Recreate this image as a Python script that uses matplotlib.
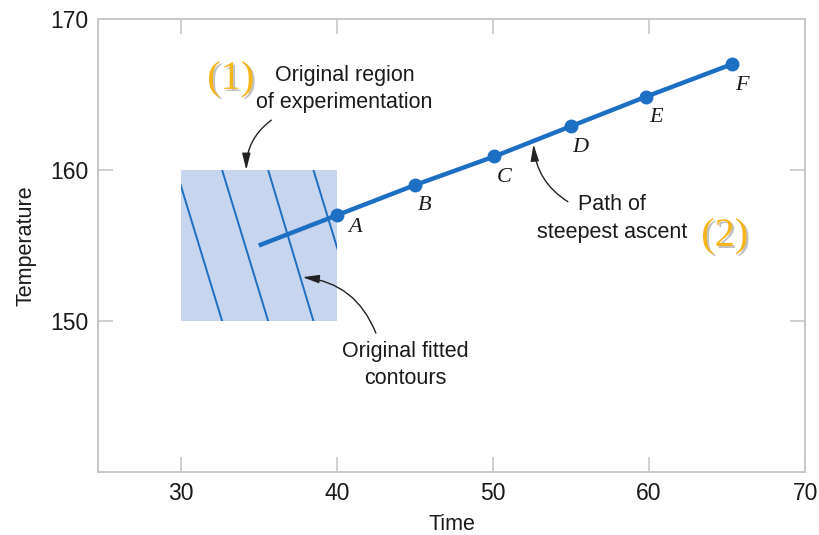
import matplotlib
matplotlib.use("Agg")
import matplotlib.pyplot as plt
import matplotlib.patheffects as pe
from matplotlib.patches import Rectangle

# steepest ascent path (Time, Temperature)
path_start = (35.0, 155.0)
point_names = ['A', 'B', 'C', 'D', 'E', 'F']
point_time = [40.0, 45.0, 50.1, 55.0, 59.8, 65.3]
point_temp = [157.0, 159.0, 160.9, 162.9, 164.85, 167.0]

# original region of experimentation
region_time = (30, 40)
region_temp = (150, 160)

# fitted contour lines: x at the top (160) and bottom (150) of the region
contour_top_x = [29.7, 32.65, 35.6, 38.5]
contour_bottom_x = [32.65, 35.6, 38.5, 41.45]

x_ticks = [30, 40, 50, 60, 70]
y_ticks = [150, 160, 170]

BLUE = '#1c6fc2'
FILL = '#c8d5ee'
GOLD = '#f6b519'
GRID = '#c8c8c8'
TEXT = '#1a1a1a'


def main():
	plt.rcParams['font.family'] = ['Liberation Sans', 'DejaVu Sans']
	fig = plt.figure(figsize=(8.19, 5.35), dpi=100)
	ax = fig.add_axes([0.1197, 0.1178, 0.8633, 0.8467])

	rect = Rectangle((region_time[0], region_temp[0]),
	                 region_time[1] - region_time[0],
	                 region_temp[1] - region_temp[0],
	                 facecolor=FILL, edgecolor='none', zorder=1)
	ax.add_patch(rect)

	for xt, xb in zip(contour_top_x, contour_bottom_x):
		ln, = ax.plot([xt, xb], [region_temp[1], region_temp[0]],
		              color=BLUE, lw=1.4, zorder=2)
		ln.set_clip_path(rect)

	ax.plot([path_start[0]] + point_time, [path_start[1]] + point_temp,
	        color=BLUE, lw=3.2, solid_capstyle='butt', zorder=3)
	ax.plot(point_time, point_temp, 'o', color=BLUE, ms=9, zorder=4)

	offsets = {'A': (13, -9)}
	for name, x, y in zip(point_names, point_time, point_temp):
		dx, dy = offsets.get(name, (7, -15))
		ax.annotate(name, (x, y), xytext=(dx, dy), textcoords='offset points',
		            ha='center', va='center', fontsize=16, style='italic',
		            family='Liberation Serif', color=TEXT, zorder=5)

	arrow = dict(arrowstyle='-|>,head_length=1.0,head_width=0.25',
	             color='#222222', lw=1.0, shrinkA=0, shrinkB=0)

	ax.annotate('', xy=(34.2, 160.0), xytext=(35.8, 163.3),
	            arrowprops=dict(arrow, connectionstyle='arc3,rad=0.25'))
	ax.text(40.5, 165.35, 'Original region\nof experimentation', ha='center',
	        va='center', fontsize=15.5, color=TEXT, linespacing=1.4)

	ax.annotate('', xy=(52.6, 161.7), xytext=(54.8, 157.9),
	            arrowprops=dict(arrow, connectionstyle='arc3,rad=-0.25'))
	ax.text(57.65, 156.8, 'Path of\nsteepest ascent', ha='center',
	        va='center', fontsize=15.5, color=TEXT, linespacing=1.4)

	ax.annotate('', xy=(37.8, 152.9), xytext=(42.5, 149.2),
	            arrowprops=dict(arrow, connectionstyle='arc3,rad=0.3'))
	ax.text(44.4, 147.1, 'Original fitted\ncontours', ha='center',
	        va='center', fontsize=15.5, color=TEXT, linespacing=1.4)

	shadow = [pe.withSimplePatchShadow(offset=(1.5, -1.5),
	                                   shadow_rgbFace='#999999', alpha=0.6)]
	ax.text(33.2, 166.0, '(1)', ha='center', va='center', fontsize=29,
	        family='Liberation Serif', color=GOLD, path_effects=shadow)
	ax.text(64.85, 155.6, '(2)', ha='center', va='center', fontsize=29,
	        family='Liberation Serif', color=GOLD, path_effects=shadow)

	ax.set_xlim(24.7, 70)
	ax.set_ylim(140, 170)
	ax.set_xticks(x_ticks)
	ax.set_yticks(y_ticks)
	ax.tick_params(direction='in', length=11, width=1.2, color=GRID,
	               labelsize=16.5, labelcolor=TEXT, top=True, right=True, pad=7)
	for s in ax.spines.values():
		s.set_color(GRID)
		s.set_linewidth(1.4)

	ax.set_xlabel('Time', fontsize=15.5, color=TEXT, labelpad=7)
	ax.set_ylabel('Temperature', fontsize=15.5, color=TEXT, labelpad=10)

	fig.savefig('out.png', dpi=100)


if __name__ == '__main__':
	main()
